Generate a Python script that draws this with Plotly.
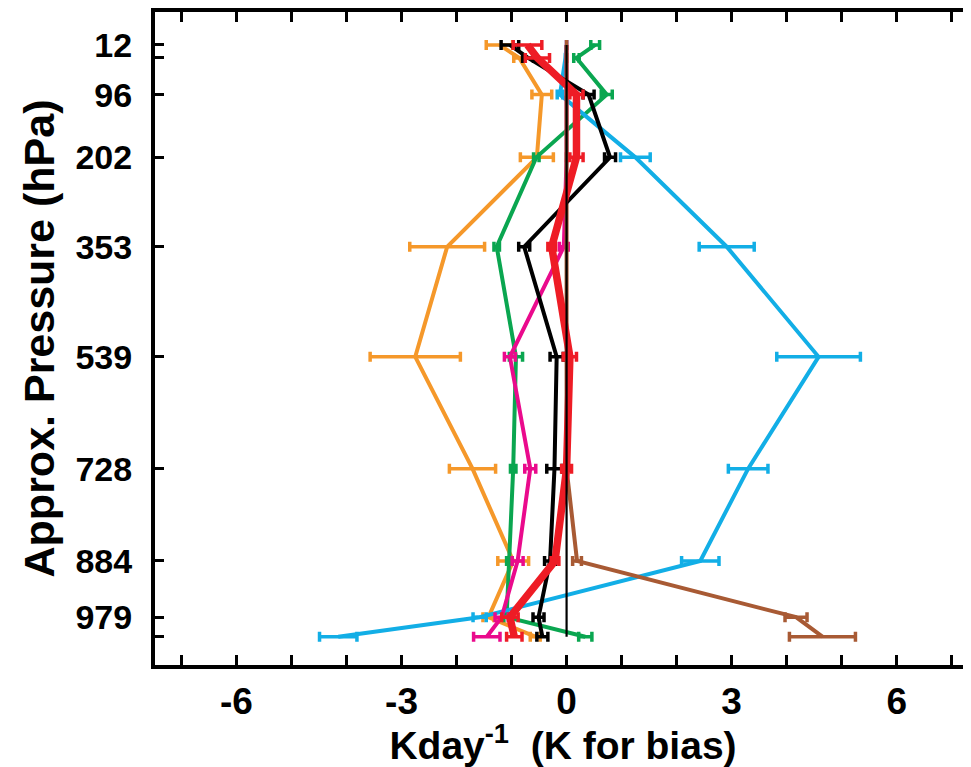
import plotly.graph_objects as go

# Pressure levels (hPa); 34 and 1012 are unlabeled model levels
levels = [12, 34, 96, 202, 353, 539, 728, 884, 979, 1012]
level_labels = ["12", "", "96", "202", "353", "539", "728", "884", "979", ""]

orange = [-1.22, -0.86, -0.45, -0.54, -2.17, -2.75, -1.71, -0.97, -1.42, -0.57]
orange_err = [0.24, 0.10, 0.18, 0.30, 0.68, 0.82, 0.42, 0.28, 0.10, 0.09]

green = [0.52, 0.18, 0.73, -0.55, -1.27, -0.92, -0.97, -1.04, -1.09, 0.34]
green_err = [0.08, 0.05, 0.10, 0.05, 0.05, 0.12, 0.05, 0.05, 0.05, 0.12]

blue = [0.0, -0.02, -0.12, 1.25, 2.91, 4.58, 3.30, 2.43, -1.58, -4.15]
blue_err = [0.0, 0.0, 0.05, 0.27, 0.50, 0.76, 0.36, 0.34, 0.12, 0.34]

magenta = [0.0, 0.0, 0.0, 0.0, -0.05, -1.03, -0.66, -0.89, -1.18, -1.45]
magenta_err = [0.0, 0.0, 0.0, 0.0, 0.08, 0.10, 0.10, 0.10, 0.12, 0.24]

brown = [0.0, 0.0, 0.0, 0.0, 0.0, 0.0, 0.0, 0.19, 4.17, 4.65]
brown_err = [0.0, 0.0, 0.0, 0.0, 0.0, 0.0, 0.0, 0.08, 0.20, 0.60]

black = [-1.03, -0.70, 0.40, 0.79, -0.77, -0.18, -0.22, -0.30, -0.51, -0.44]
black_err = [0.16, 0.10, 0.10, 0.10, 0.10, 0.12, 0.14, 0.10, 0.10, 0.10]

red = [-0.71, -0.53, 0.18, 0.18, -0.27, 0.06, 0.0, -0.21, -1.03, -0.95]
red_err = [0.26, 0.22, 0.12, 0.12, 0.07, 0.12, 0.09, 0.07, 0.15, 0.14]

zero_line = [0.0] * len(levels)

x_ticks = list(range(-7, 8))
x_ticktext = [str(v) if v % 3 == 0 else "" for v in x_ticks]

series = [
    ("orange", orange, orange_err, "#F5982A", 4),
    ("green", green, green_err, "#0AA650", 4),
    ("blue", blue, blue_err, "#12AEE6", 4),
    ("magenta", magenta, magenta_err, "#EA0A8C", 4),
    ("brown", brown, brown_err, "#A85A34", 4),
    ("black", black, black_err, "#000000", 4),
    ("red", red, red_err, "#EE1C25", 7.5),
]

fig = go.Figure()
for name, vals, errs, color, lw in series:
    fig.add_trace(go.Scatter(
        x=vals, y=levels, mode="lines", name=name,
        line=dict(color=color, width=lw),
        error_x=dict(type="data", array=errs, visible=True,
                     color=color, thickness=3.5, width=5),
        showlegend=False,
    ))

fig.add_trace(go.Scatter(
    x=zero_line, y=levels, mode="lines", line=dict(color="black", width=2.2),
    showlegend=False,
))

# invisible trace to anchor the right-hand tick axis
fig.add_trace(go.Scatter(x=[0], y=[levels[0]], yaxis="y2", mode="markers",
                         marker=dict(opacity=0), showlegend=False, hoverinfo="skip"))

yrange = [1059.8, -43.6]
font_family = "Liberation Sans, Arial, sans-serif"

fig.update_layout(
    width=963, height=759,
    margin=dict(l=147, r=0, t=2, b=102),
    paper_bgcolor="white", plot_bgcolor="white",
    font=dict(family=font_family, color="black"),
    xaxis=dict(
        range=[-7.48, 7.35], tickvals=x_ticks, ticktext=x_ticktext,
        ticks="inside", ticklen=10, tickwidth=3, tickcolor="black",
        showline=True, linewidth=4, linecolor="black", mirror="ticks",
        showgrid=False, zeroline=False,
        tickfont=dict(size=37, family=font_family, weight="bold"),
        ticklabelstandoff=1,
        title=dict(text="Kday<sup>-1</sup>  (K for bias)",
                   font=dict(size=39, family=font_family, weight="bold"),
                   standoff=14),
    ),
    yaxis=dict(
        range=yrange, tickvals=levels, ticktext=level_labels,
        ticks="inside", ticklen=9, tickwidth=3, tickcolor="black",
        showline=True, linewidth=4, linecolor="black",
        showgrid=False, zeroline=False,
        tickfont=dict(size=34, family=font_family, weight="bold"),
        ticklabelstandoff=12,
        title=dict(text="Approx. Pressure (hPa)",
                   font=dict(size=43, family=font_family, weight="bold"),
                   standoff=8),
    ),
    yaxis2=dict(
        range=yrange, overlaying="y", side="right", tickvals=levels,
        showticklabels=False, ticks="inside", ticklen=3, tickwidth=3,
        tickcolor="#808080", showline=False, showgrid=False, zeroline=False,
    ),
)

fig.write_html("out.html")
